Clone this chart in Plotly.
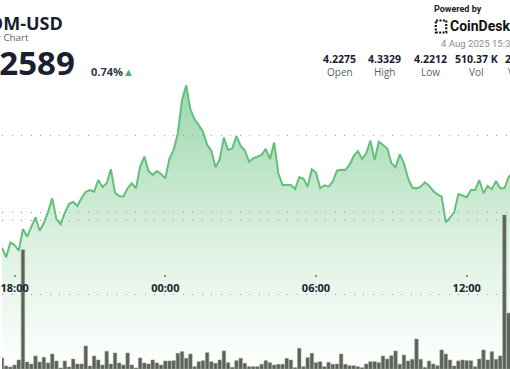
import plotly.graph_objects as go
import pandas as pd

# ---------------- data ----------------
START = "2025-08-03 17:30"
FREQ = "10min"

PRICE = [
    4.2275, 4.2212, 4.2308, 4.2292, 4.2255, 4.2396, 4.2346, 4.2409, 4.2472, 4.2385,
    4.2433, 4.2507, 4.2595, 4.2459, 4.2427, 4.2500, 4.2558, 4.2573, 4.2545, 4.2597,
    4.2638, 4.2649, 4.2638, 4.2714, 4.2669, 4.2693, 4.2784, 4.2632, 4.2610, 4.2606,
    4.2660, 4.2693, 4.2660, 4.2801, 4.2866, 4.2773, 4.2747, 4.2773, 4.2753, 4.2725,
    4.2855, 4.2909, 4.3018, 4.3234, 4.3329, 4.3173, 4.3108, 4.3071, 4.3028, 4.2942,
    4.2905, 4.2797, 4.2849, 4.2989, 4.2909, 4.2920, 4.3000, 4.2935, 4.2905, 4.2833,
    4.2855, 4.2866, 4.2877, 4.2916, 4.2849, 4.2957, 4.2758, 4.2682, 4.2680, 4.2682,
    4.2656, 4.2732, 4.2723, 4.2671, 4.2784, 4.2762, 4.2660, 4.2680, 4.2671, 4.2703,
    4.2775, 4.2781, 4.2779, 4.2812, 4.2870, 4.2903, 4.2851, 4.2888, 4.2970, 4.2844,
    4.2963, 4.2942, 4.2920, 4.2823, 4.2797, 4.2881, 4.2823, 4.2725, 4.2664, 4.2660,
    4.2671, 4.2699, 4.2677, 4.2643, 4.2621, 4.2606, 4.2440, 4.2470, 4.2504, 4.2623,
    4.2612, 4.2602, 4.2649, 4.2649, 4.2714, 4.2628, 4.2675, 4.2654, 4.2708, 4.2660,
    4.2660, 4.2732, 4.2766,
]

VOLUME_K = [
    2.97, 0.81, 0.54, 1.08, 2.43, 32.2, 1.89, 1.35, 3.51, 1.89,
    3.16, 1.62, 4.05, 2.16, 0.27, 2.16, 0.54, 2.70, 1.35, 1.35,
    6.22, 0.81, 3.51, 2.43, 1.08, 4.78, 1.35, 4.32, 1.62, 1.08,
    4.32, 1.08, 0.27, 2.97, 1.62, 1.35, 2.43, 1.62, 1.08, 2.16,
    2.16, 2.24, 4.24, 4.68, 2.89, 4.05, 0.62, 1.97, 2.24, 4.41,
    1.97, 1.54, 2.43, 4.86, 1.70, 0.46, 2.24, 2.89, 1.54, 0.62,
    0.62, 0.62, 1.27, 2.24, 1.70, 1.08, 1.27, 1.27, 2.89, 2.43,
    0.35, 5.59, 0.62, 3.05, 4.24, 1.70, 1.97, 0.62, 1.81, 1.27,
    1.35, 4.05, 1.27, 0.89, 0.89, 0.62, 0.35, 1.35, 1.97, 1.97,
    1.70, 3.51, 2.70, 3.59, 4.86, 1.27, 3.78, 2.16, 2.62, 8.11,
    2.62, 0.46, 2.16, 1.35, 0.89, 5.14, 4.05, 2.43, 0.81, 2.16,
    2.43, 2.24, 2.24, 0.62, 2.70, 5.14, 2.43, 4.68, 2.62, 3.51,
    41.6, 15.1,
]

PRICE_GRID = [4.25, 4.30]
VOLUME_GRID = [20, 40]
PRICE_RANGE = [4.1487, 4.3883]
VOLUME_RANGE = [0, 99.7]
X_RANGE = ["2025-08-03 17:30:00", "2025-08-04 13:43:20"]
X_TICKS = ["2025-08-03 18:00", "2025-08-04 00:00", "2025-08-04 06:00", "2025-08-04 12:00"]
X_TICK_TEXT = ["18:00", "00:00", "06:00", "12:00"]

SYMBOL = "ATOM-USD"
SUBTITLE = "24 Hour Chart"
LAST_PRICE = "4.2589"
CHANGE = "0.74%"
TIMESTAMP = "4 Aug 2025 15:38 UTC"
STAT_VALUES = ["4.2275", "4.3329", "4.2212", "510.37 K", "2.17 M"]
STAT_LABELS = ["Open", "High", "Low", "Vol", "Vol (USD)"]

# ---------------- figure ----------------
W, H = 510, 369
FONT = "Open Sans"
FONT2 = "Roboto"
DARK = "#1b2030"
GREEN_LINE = "#62c07a"

price_times = pd.date_range(START, periods=len(PRICE), freq=FREQ)
vol_times = pd.date_range(START, periods=len(VOLUME_K), freq=FREQ)

fig = go.Figure()
fig.add_trace(go.Scatter(
    x=price_times, y=PRICE, mode="lines",
    line=dict(color=GREEN_LINE, width=2),
    fill="tozeroy",
    fillgradient=dict(
        type="vertical",
        colorscale=[[0, "rgba(95,190,120,0.0)"], [0.45, "rgba(95,190,120,0.22)"],
                    [1, "rgba(95,190,120,0.62)"]],
        start=PRICE_RANGE[0], stop=max(PRICE),
    ),
    hoverinfo="skip", showlegend=False,
))
fig.add_trace(go.Bar(
    x=vol_times, y=VOLUME_K, yaxis="y2",
    width=0.82 * 600000,
    marker=dict(color="#5b6258", line=dict(color="#8e958b", width=0.6)),
    hoverinfo="skip", showlegend=False,
))

grid = dict(showgrid=True, gridcolor="#9c9c9c", gridwidth=1.3, griddash="1.3px,8.2px",
            showticklabels=False, zeroline=False, ticks="", showline=False)

fig.update_layout(
    width=W, height=H,
    margin=dict(l=0, r=0, t=0, b=0),
    paper_bgcolor="white", plot_bgcolor="white",
    showlegend=False,
    xaxis=dict(
        type="date", range=X_RANGE, anchor="free", position=1 - 274 / H,
        showgrid=False, zeroline=False, showline=False,
        tickvals=X_TICKS, ticktext=X_TICK_TEXT,
        ticks="outside", ticklen=2, tickwidth=1.5, tickcolor="#8f8f8f",
        ticklabelstandoff=2, ticklabeloverflow="allow",
        tickfont=dict(family=FONT, size=11, color=DARK, weight="bold"),
    ),
    yaxis=dict(range=PRICE_RANGE, tickvals=PRICE_GRID, **grid),
    yaxis2=dict(range=VOLUME_RANGE, tickvals=VOLUME_GRID, overlaying="y", side="right", **grid),
)


def px(x, y):
    return x / W, 1 - y / H


def note(text, x, y, size, color, anchor="left", weight="normal", family=FONT):
    ax, ay = px(x, y)
    fig.add_annotation(text=text, x=ax, y=ay, xref="paper", yref="paper",
                       xanchor=anchor, yanchor="middle", showarrow=False,
                       font=dict(family=family, size=size, color=color, weight=weight))


note(SYMBOL, 63.5, 22.5, 18, DARK, "right", "bold")
note(SUBTITLE, 28.8, 37, 9.8, "#5a5f6a", "right")
note(LAST_PRICE, 75, 62, 33, DARK, "right", "bold")
note(CHANGE, 87, 72, 11, "#333845", "left", "bold")
note("▲", 119, 72, 11, "#45b865", "left")

note("Powered by", 432, 9.5, 9, "#222222", "left", "bold", FONT2)
note("CoinDesk", 448, 26, 14, "#111111", "left", "bold", FONT2)
note(TIMESTAMP, 439, 44, 9.6, "#8a8d94", "left", "normal", FONT2)

stat_x = [339, 384, 430, 476]
for xv, val, lab in zip(stat_x, STAT_VALUES[:4], STAT_LABELS[:4]):
    note(val, xv, 59, 10.5, DARK, "center", "bold")
    note(lab, xv, 72, 10, "#5a5f6a", "center")
note(STAT_VALUES[4], 502.5, 59, 10.5, DARK, "left", "bold")
note(STAT_LABELS[4], 506, 72, 10, "#5a5f6a", "left")

# CoinDesk logo mark (dotted bracket square)
x0, y1 = px(435.5, 20.5)
x1, y0 = px(446, 32.5)
fig.add_shape(type="rect", xref="paper", yref="paper", x0=x0, x1=x1, y0=y0, y1=y1,
              line=dict(color="#111111", width=2.2, dash="2px,1.4px"))

fig.write_html("out.html", config={"displayModeBar": False},
               post_script="document.body.style.margin='0px';")
